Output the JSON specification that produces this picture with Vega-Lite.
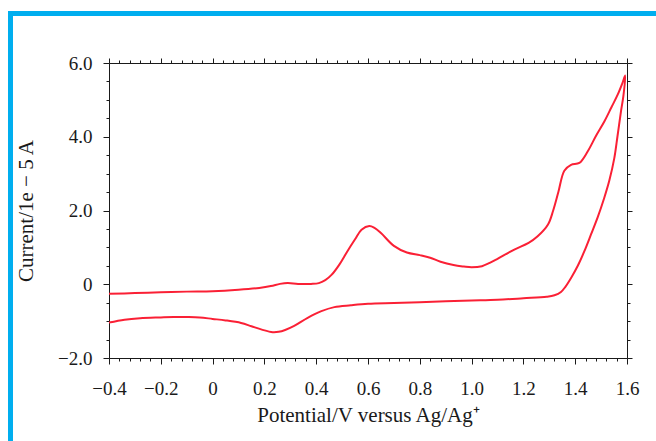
{
  "$schema": "https://vega.github.io/schema/vega-lite/v6.json",
  "padding": {"left": 7, "top": 10, "right": 0, "bottom": 0},
  "background": "white",
  "config": {"font": "Liberation Serif", "view": {"stroke": null}},
  "datasets": {
    "cv": [
      {"i": 1, "V": -0.40, "I": -0.26},
      {"i": 2, "V": -0.30, "I": -0.24},
      {"i": 3, "V": -0.20, "I": -0.22},
      {"i": 4, "V": -0.10, "I": -0.20},
      {"i": 5, "V": 0.00, "I": -0.19},
      {"i": 6, "V": 0.10, "I": -0.15},
      {"i": 7, "V": 0.18, "I": -0.10},
      {"i": 8, "V": 0.225, "I": -0.05},
      {"i": 9, "V": 0.26, "I": 0.01},
      {"i": 10, "V": 0.29, "I": 0.035},
      {"i": 11, "V": 0.33, "I": 0.01},
      {"i": 12, "V": 0.38, "I": 0.01},
      {"i": 13, "V": 0.41, "I": 0.03},
      {"i": 14, "V": 0.435, "I": 0.11},
      {"i": 15, "V": 0.46, "I": 0.26},
      {"i": 16, "V": 0.49, "I": 0.54},
      {"i": 17, "V": 0.52, "I": 0.89},
      {"i": 18, "V": 0.55, "I": 1.22},
      {"i": 19, "V": 0.575, "I": 1.48},
      {"i": 20, "V": 0.605, "I": 1.58},
      {"i": 21, "V": 0.625, "I": 1.53},
      {"i": 22, "V": 0.65, "I": 1.39},
      {"i": 23, "V": 0.70, "I": 1.04},
      {"i": 24, "V": 0.75, "I": 0.86},
      {"i": 25, "V": 0.80, "I": 0.79},
      {"i": 26, "V": 0.84, "I": 0.72},
      {"i": 27, "V": 0.88, "I": 0.61},
      {"i": 28, "V": 0.93, "I": 0.52},
      {"i": 29, "V": 0.97, "I": 0.48},
      {"i": 30, "V": 1.00, "I": 0.46},
      {"i": 31, "V": 1.04, "I": 0.49},
      {"i": 32, "V": 1.07, "I": 0.58},
      {"i": 33, "V": 1.10, "I": 0.69},
      {"i": 34, "V": 1.165, "I": 0.94},
      {"i": 35, "V": 1.22, "I": 1.12},
      {"i": 36, "V": 1.255, "I": 1.30},
      {"i": 37, "V": 1.295, "I": 1.62},
      {"i": 38, "V": 1.315, "I": 2.00},
      {"i": 39, "V": 1.335, "I": 2.50},
      {"i": 40, "V": 1.358, "I": 3.08},
      {"i": 41, "V": 1.384, "I": 3.24},
      {"i": 42, "V": 1.416, "I": 3.29},
      {"i": 43, "V": 1.448, "I": 3.60},
      {"i": 44, "V": 1.48, "I": 4.02},
      {"i": 45, "V": 1.513, "I": 4.42},
      {"i": 46, "V": 1.54, "I": 4.80},
      {"i": 47, "V": 1.564, "I": 5.14},
      {"i": 48, "V": 1.582, "I": 5.45},
      {"i": 49, "V": 1.593, "I": 5.66},
      {"i": 50, "V": 1.586, "I": 5.10},
      {"i": 51, "V": 1.577, "I": 4.70},
      {"i": 52, "V": 1.563, "I": 4.00},
      {"i": 53, "V": 1.551, "I": 3.42},
      {"i": 54, "V": 1.532, "I": 2.82},
      {"i": 55, "V": 1.512, "I": 2.34},
      {"i": 56, "V": 1.487, "I": 1.82},
      {"i": 57, "V": 1.461, "I": 1.35},
      {"i": 58, "V": 1.435, "I": 0.89},
      {"i": 59, "V": 1.41, "I": 0.50},
      {"i": 60, "V": 1.384, "I": 0.17},
      {"i": 61, "V": 1.362, "I": -0.07},
      {"i": 62, "V": 1.345, "I": -0.21},
      {"i": 63, "V": 1.32, "I": -0.30},
      {"i": 64, "V": 1.29, "I": -0.34},
      {"i": 65, "V": 1.20, "I": -0.38},
      {"i": 66, "V": 1.10, "I": -0.42},
      {"i": 67, "V": 1.00, "I": -0.44},
      {"i": 68, "V": 0.90, "I": -0.46},
      {"i": 69, "V": 0.80, "I": -0.49},
      {"i": 70, "V": 0.70, "I": -0.51},
      {"i": 71, "V": 0.60, "I": -0.53},
      {"i": 72, "V": 0.534, "I": -0.57},
      {"i": 73, "V": 0.47, "I": -0.62},
      {"i": 74, "V": 0.42, "I": -0.73},
      {"i": 75, "V": 0.367, "I": -0.91},
      {"i": 76, "V": 0.315, "I": -1.13},
      {"i": 77, "V": 0.28, "I": -1.24},
      {"i": 78, "V": 0.255, "I": -1.29},
      {"i": 79, "V": 0.232, "I": -1.30},
      {"i": 80, "V": 0.19, "I": -1.23},
      {"i": 81, "V": 0.15, "I": -1.14},
      {"i": 82, "V": 0.11, "I": -1.05},
      {"i": 83, "V": 0.05, "I": -0.98},
      {"i": 84, "V": 0.00, "I": -0.94},
      {"i": 85, "V": -0.05, "I": -0.90},
      {"i": 86, "V": -0.10, "I": -0.89},
      {"i": 87, "V": -0.15, "I": -0.89},
      {"i": 88, "V": -0.20, "I": -0.90},
      {"i": 89, "V": -0.28, "I": -0.92},
      {"i": 90, "V": -0.34, "I": -0.96},
      {"i": 91, "V": -0.40, "I": -1.04}
    ]
  },
  "bounds": "flush",
  "spacing": 0,
  "vconcat": [
    {
      "width": 649,
      "height": 5,
      "data": {"values": [{"k": 0}]},
      "mark": {"type": "point", "opacity": 0},
      "view": {"fill": "#00aeef", "stroke": null}
    },
    {
      "bounds": "flush",
      "spacing": 96,
      "hconcat": [
        {
          "width": 5,
          "height": 426,
          "data": {"values": [{"k": 0}]},
          "mark": {"type": "point", "opacity": 0},
          "view": {"fill": "#00aeef", "stroke": null}
        },
        {
          "bounds": "flush",
          "spacing": 0,
          "vconcat": [
            {
              "width": 518,
              "height": 47,
              "data": {"values": [{"k": 0}]},
              "mark": {"type": "point", "opacity": 0},
              "view": {"fill": null, "stroke": null}
            },
            {
              "width": 518,
              "height": 295,
              "data": {"name": "cv"},
              "layer": [
                {
                  "mark": {"type": "line", "color": "#fa2035", "strokeWidth": 2, "interpolate": "catmull-rom"},
                  "encoding": {
                    "x": {
                      "field": "V", "type": "quantitative",
                      "scale": {"domain": [-0.4, 1.6], "nice": false, "zero": false},
                      "axis": {
                        "orient": "bottom",
                        "title": "Potential/V versus Ag/Ag⁺",
                        "values": [-0.4,-0.36,-0.32,-0.28,-0.24,-0.2,-0.16,-0.12,-0.08,-0.04,0,0.04,0.08,0.12,0.16,0.2,0.24,0.28,0.32,0.36,0.4,0.44,0.48,0.52,0.56,0.6,0.64,0.68,0.72,0.76,0.8,0.84,0.88,0.92,0.96,1,1.04,1.08,1.12,1.16,1.2,1.24,1.28,1.32,1.36,1.4,1.44,1.48,1.52,1.56,1.6],
                        "labelExpr": "abs(datum.value*5 - round(datum.value*5)) < 0.01 ? (abs(datum.value) < 0.001 ? '0' : format(datum.value, '.1f')) : ''",
                        "tickSize": {"condition": {"test": "abs(datum.value*5 - round(datum.value*5)) < 0.01", "value": 6}, "value": 3},
                        "labelOverlap": false,
                        "labelFlush": false,
                        "labelPadding": 15,
                        "labelFont": "Liberation Serif",
                        "labelFontSize": 19,
                        "labelColor": "#1a1a1a",
                        "titleFont": "Liberation Serif",
                        "titleFontSize": 21,
                        "titleFontWeight": "normal",
                        "titleColor": "#1a1a1a",
                        "titlePadding": 6,
                        "domainColor": "#1a1a1a",
                        "tickColor": "#1a1a1a",
                        "grid": false
                      }
                    },
                    "y": {
                      "field": "I", "type": "quantitative",
                      "scale": {"domain": [-2, 6], "nice": false, "zero": false},
                      "axis": {
                        "orient": "left",
                        "title": "Current/1e − 5 A",
                        "values": [-2,-1.5,-1,-0.5,0,0.5,1,1.5,2,2.5,3,3.5,4,4.5,5,5.5,6],
                        "labelExpr": "abs(datum.value/2 - round(datum.value/2)) < 0.01 ? (abs(datum.value) < 0.001 ? '0' : format(datum.value, '.1f')) : ''",
                        "tickSize": {"condition": {"test": "abs(datum.value/2 - round(datum.value/2)) < 0.01", "value": 6}, "value": 3},
                        "labelOverlap": false,
                        "labelFlush": false,
                        "labelPadding": 11,
                        "labelFont": "Liberation Serif",
                        "labelFontSize": 19,
                        "labelColor": "#1a1a1a",
                        "titleFont": "Liberation Serif",
                        "titleFontSize": 21,
                        "titleFontWeight": "normal",
                        "titleColor": "#1a1a1a",
                        "titlePadding": 21,
                        "domainColor": "#1a1a1a",
                        "tickColor": "#1a1a1a",
                        "grid": false
                      }
                    },
                    "order": {"field": "i", "type": "quantitative"}
                  }
                },
                {
                  "mark": {"type": "line", "opacity": 0},
                  "encoding": {
                    "x": {
                      "field": "V", "type": "quantitative",
                      "axis": {
                        "orient": "top", "title": null, "labels": false, "grid": false,
                        "values": [-0.4,-0.36,-0.32,-0.28,-0.24,-0.2,-0.16,-0.12,-0.08,-0.04,0,0.04,0.08,0.12,0.16,0.2,0.24,0.28,0.32,0.36,0.4,0.44,0.48,0.52,0.56,0.6,0.64,0.68,0.72,0.76,0.8,0.84,0.88,0.92,0.96,1,1.04,1.08,1.12,1.16,1.2,1.24,1.28,1.32,1.36,1.4,1.44,1.48,1.52,1.56,1.6],
                        "tickSize": {"condition": {"test": "abs(datum.value*5 - round(datum.value*5)) < 0.01", "value": 5}, "value": 3},
                        "domainColor": "#1a1a1a", "tickColor": "#1a1a1a"
                      }
                    },
                    "y": {
                      "field": "I", "type": "quantitative",
                      "axis": {
                        "orient": "right", "title": null, "labels": false, "grid": false,
                        "values": [-2,-1.5,-1,-0.5,0,0.5,1,1.5,2,2.5,3,3.5,4,4.5,5,5.5,6],
                        "tickSize": {"condition": {"test": "abs(datum.value/2 - round(datum.value/2)) < 0.01", "value": 5}, "value": 3},
                        "domainColor": "#1a1a1a", "tickColor": "#1a1a1a"
                      }
                    },
                    "order": {"field": "i", "type": "quantitative"}
                  }
                }
              ],
              "resolve": {"axis": {"x": "independent", "y": "independent"}}
            }
          ]
        }
      ]
    }
  ]
}
